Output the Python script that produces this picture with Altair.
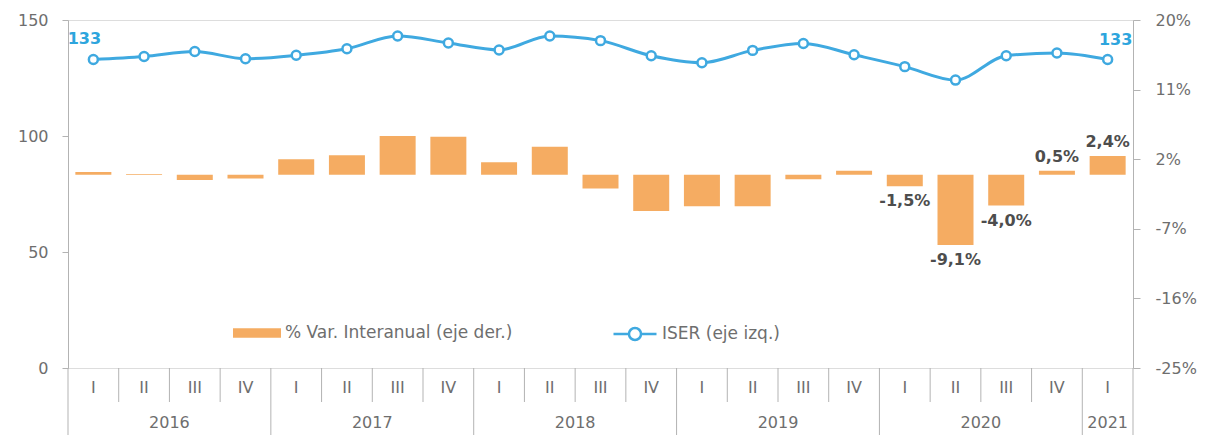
import altair as alt
import pandas as pd

quarters = ["I", "II", "III", "IV"] * 5 + ["I"]
years = [2016] * 4 + [2017] * 4 + [2018] * 4 + [2019] * 4 + [2020] * 4 + [2021]
iser = [133.0, 134.3, 136.4, 133.3, 134.8, 137.6, 143.1, 140.1, 137.1, 143.1, 141.1,
        134.6, 131.6, 136.9, 139.9, 135.0, 129.9, 124.1, 134.6, 135.8, 133.0]
var = [0.35, 0.1, -0.7, -0.5, 2.0, 2.5, 5.0, 4.9, 1.6, 3.6, -1.8, -4.7, -4.1, -4.1,
       -0.6, 0.5, -1.5, -9.1, -4.0, 0.5, 2.4]
iser_labels = ["133"] + [""] * 19 + ["133"]
var_labels = [""] * 16 + ["-1,5%", "-9,1%", "-4,0%", "0,5%", "2,4%"]
bar_name = "% Var. Interanual (eje der.)"
line_name = "ISER (eje izq.)"

W, H = 1065, 348
ORANGE = "#F5AC62"
BLUE = "#3FA9E0"
AX = "#B3B3B3"
LC = "#6E6E6E"
FONT = "DejaVu Sans"

df = pd.DataFrame({
    "idx": list(range(len(quarters))),
    "q": quarters,
    "year": years,
    "iser": iser,
    "var": var,
    "ilab": iser_labels,
    "vlab": var_labels,
})

qsep = [i + 0.5 for i in range(len(years) - 1) if years[i] == years[i + 1]]
ysep = [-0.5] + [i + 0.5 for i in range(len(years) - 1) if years[i] != years[i + 1]] + [len(years) - 0.5]
ydf = df.groupby("year", as_index=False)["idx"].mean()

xs = alt.Scale(domain=[-0.5, len(quarters) - 0.5], nice=False, zero=False, padding=0)
ys_r = alt.Scale(domain=[-25, 20], nice=False, zero=False)
ys_l = alt.Scale(domain=[0, 150], nice=False, zero=False)
xn = alt.X("idx:Q", scale=xs, axis=None)

base = alt.Chart(df)

bars = base.transform_calculate(serie=f"'{bar_name}'").mark_bar(size=36).encode(
    x=alt.X("idx:Q", scale=xs, axis=alt.Axis(orient="bottom", labels=False, ticks=False,
                                              title=None, grid=False, domainColor=AX)),
    y=alt.Y("var:Q", scale=ys_r, axis=alt.Axis(
        orient="right", values=[-25, -16, -7, 2, 11, 20], labelExpr="datum.value + '%'",
        tickSize=7, labelPadding=15, title=None, grid=False, domainColor=AX, tickColor=AX,
        labelFontSize=16, labelColor=LC, labelFont=FONT)),
    color=alt.Color("serie:N", scale=alt.Scale(domain=[bar_name], range=[ORANGE]),
                    legend=alt.Legend(orient="none", legendX=165, legendY=289, title=None,
                                      symbolType="M-1,-0.2H1V0.2H-1Z", symbolSize=2304,
                                      symbolStrokeWidth=0, labelFontSize=17, labelColor=LC,
                                      labelFont=FONT, labelOffset=4, labelLimit=0)),
)

bar_lab_below = base.transform_filter("datum.vlab != '' && datum.var < 0").mark_text(
    font=FONT, fontSize=16, fontWeight="bold", color="#4D4D4D", baseline="middle", dy=15
).encode(x=xn, y=alt.Y("var:Q", scale=ys_r, axis=None), text="vlab:N")

bar_lab_above = base.transform_filter("datum.vlab != '' && datum.var >= 0").mark_text(
    font=FONT, fontSize=16, fontWeight="bold", color="#4D4D4D", baseline="middle", dy=-14
).encode(x=xn, y=alt.Y("var:Q", scale=ys_r, axis=None), text="vlab:N")

line = base.transform_calculate(serie=f"'{line_name}'").mark_line(
    interpolate="monotone", strokeWidth=3
).encode(
    x=xn,
    y=alt.Y("iser:Q", scale=ys_l, axis=alt.Axis(
        orient="left", values=[0, 50, 100, 150], tickSize=6, labelPadding=14, title=None,
        grid=False, domainColor=AX, tickColor=AX, labelFontSize=16, labelColor=LC,
        labelFont=FONT)),
    stroke=alt.Stroke("serie:N", scale=alt.Scale(domain=[line_name], range=[BLUE]),
                      legend=alt.Legend(orient="none", legendX=544, legendY=291, title=None,
                                        symbolType="M-1,0H-0.28M0.28,0H1M-0.28,0A0.28,0.28 0 1,1 0.28,0A0.28,0.28 0 1,1 -0.28,0",
                                        symbolSize=1849, symbolStrokeWidth=2.5,
                                        symbolFillColor="white", labelFontSize=17,
                                        labelColor=LC, labelFont=FONT, labelOffset=4,
                                        labelLimit=0)),
)

points = base.mark_point(shape="circle", filled=True, fill="white", stroke=BLUE,
                         strokeWidth=2.5, size=80, opacity=1).encode(
    x=xn, y=alt.Y("iser:Q", scale=ys_l, axis=None))

first_idx = 0
last_idx = len(quarters) - 1
lab_first = base.transform_filter(f"datum.idx == {first_idx} && datum.ilab != ''").mark_text(
    font=FONT, fontSize=16, fontWeight="bold", color="#2DA5DD", dx=-9, dy=-20
).encode(x=xn, y=alt.Y("iser:Q", scale=ys_l, axis=None), text="ilab:N")
lab_last = base.transform_filter(f"datum.idx == {last_idx} && datum.ilab != ''").mark_text(
    font=FONT, fontSize=16, fontWeight="bold", color="#2DA5DD", dx=8, dy=-19
).encode(x=xn, y=alt.Y("iser:Q", scale=ys_l, axis=None), text="ilab:N")

qrules = alt.Chart(pd.DataFrame({"s": qsep})).mark_rule(color=AX, strokeWidth=1).encode(
    x=alt.X("s:Q", scale=xs, axis=None), y=alt.value(H), y2=alt.value(H + 34))
yrules = alt.Chart(pd.DataFrame({"s": ysep})).mark_rule(color=AX, strokeWidth=1).encode(
    x=alt.X("s:Q", scale=xs, axis=None), y=alt.value(H), y2=alt.value(H + 67))

qtext = base.mark_text(font=FONT, fontSize=16, color=LC, baseline="middle").encode(
    x=xn, y=alt.value(H + 20), text="q:N")
ytext = alt.Chart(ydf).mark_text(font=FONT, fontSize=16, color=LC, baseline="middle").encode(
    x=alt.X("idx:Q", scale=xs, axis=None), y=alt.value(H + 55), text="year:N")

chart = alt.layer(
    bars, bar_lab_below, bar_lab_above, line, points, lab_first, lab_last,
    qrules, yrules, qtext, ytext
).resolve_scale(y="independent", color="independent", stroke="independent").properties(
    width=W, height=H,
    autosize=alt.AutoSizeParams(type="none"),
    padding={"left": 60, "top": 12, "right": 64, "bottom": 67},
).configure_view(stroke=None).configure(font=FONT)

chart.save("out.html", embed_options={"renderer": "svg", "actions": False})
